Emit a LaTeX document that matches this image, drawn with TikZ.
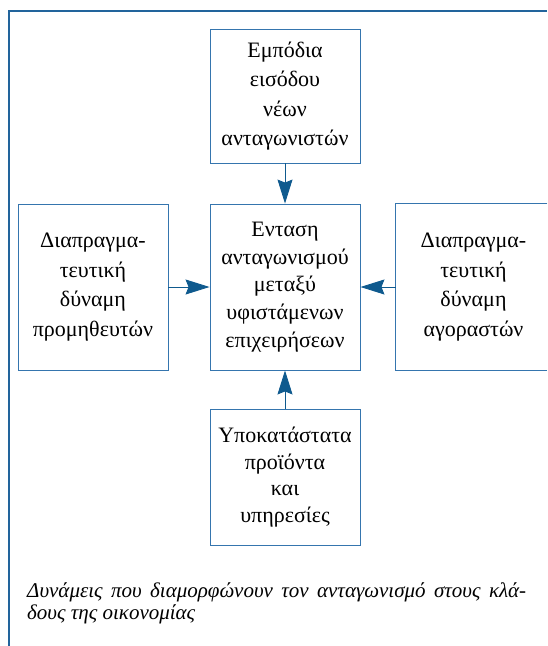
\documentclass[tikz,border=0pt]{standalone}
\usepackage{fontspec}
\setmainfont{Liberation Serif}
\usetikzlibrary{arrows.meta}
\definecolor{framec}{HTML}{22649C}
\definecolor{boxc}{HTML}{3575AE}
\definecolor{arrc}{HTML}{0F5A8E}
\tikzset{
  box/.style={draw=boxc, line width=0.9pt, inner sep=0pt, minimum width=150pt, align=center,
    font=\fontsize{22}{29.5}\selectfont},
  conn/.style={draw=arrc, line width=0.9pt, -{Stealth[length=24pt,width=15pt,inset=3pt]}},
  frame/.style={draw=framec, line width=2pt}
}
\begin{document}
\begin{tikzpicture}[x=1pt,y=-1pt]
\useasboundingbox (0,0) rectangle (547,646);
\draw[frame] (9,646) -- (9,11) -- (547,11);
\node[box, minimum height=134pt] (top) at (285,96) {Εμπόδια\\εισόδου\\νέων\\ανταγωνιστών};
\node[box, minimum height=166pt, font=\fontsize{22}{27.8}\selectfont] (mid) at (285,287) {Ενταση\\ανταγωνισμού\\μεταξύ\\υφιστάμενων\\επιχειρήσεων};
\node[box, minimum height=166pt] (left) at (93,287) {Διαπραγμα-\\τευτική\\δύναμη\\προμηθευτών};
\node[box, draw=none, minimum width=151pt, minimum height=166pt] (right) at (471.5,287) {\hspace*{4pt}Διαπραγμα-\\\hspace*{4pt}τευτική\\\hspace*{4pt}δύναμη\\\hspace*{4pt}αγοραστών};
\draw[draw=boxc, line width=0.9pt] (right.north east) -- (right.north west) -- (right.south west) -- (right.south east);
\node[box, minimum height=136pt, font=\fontsize{22}{26.8}\selectfont] (bot) at (285,477) {Υποκατάστατα\\προϊόντα\\και\\υπηρεσίες};
\draw[conn] (top) -- (mid);
\draw[conn] (left) -- (mid);
\draw[conn] (right) -- (mid);
\draw[conn] (bot) -- (mid);
\node[anchor=north west, inner sep=0pt, text width=499pt, align=justify,
  font=\fontsize{21}{22.5}\selectfont\itshape] (cap) at (27,582)
  {Δυνάμεις που διαμορφώνουν τον ανταγωνισμό στους κλά-\linebreak δους της οικονομίας};
\end{tikzpicture}
\end{document}
